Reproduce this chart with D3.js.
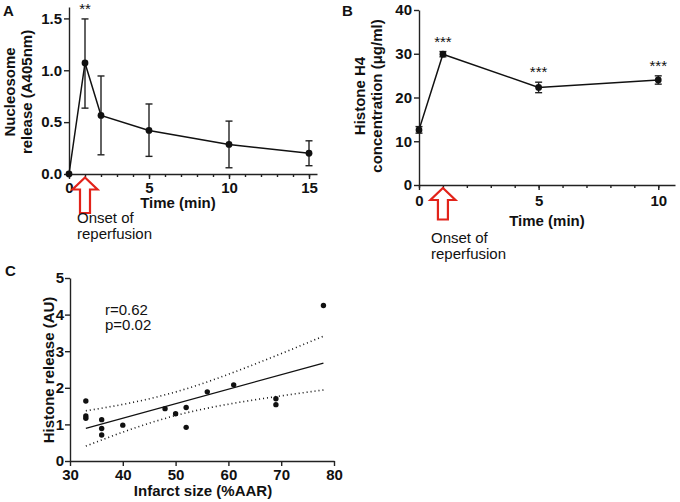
<!DOCTYPE html>
<html>
<head>
<meta charset="utf-8">
<script src="https://cdn.jsdelivr.net/npm/d3@7"></script>
<style>
  body { margin: 0; background: #fff; }
  svg { display: block; font-family: "Liberation Sans", Arial, sans-serif; }
  .axis path, .axis line { stroke: #222; stroke-width: 1.4; }
  .axis text { font-size: 15px; font-weight: bold; fill: #111; }
  .title { font-size: 15px; font-weight: bold; fill: #111; }
  .note { font-size: 15px; fill: #111; }
</style>
</head>
<body>
<svg id="chart" width="680" height="502"></svg>
<script>
// Panel A: nucleosome release
const aTime = [0, 1, 2, 5, 10, 15];
const aMean = [0, 1.07, 0.565, 0.42, 0.285, 0.2];
const aLow = [0, 0.635, 0.185, 0.17, 0.06, 0.08];
const aHigh = [0, 1.495, 0.945, 0.675, 0.51, 0.32];
const aStars = ['', '**', '', '', '', ''];
const aXTicks = [0, 5, 10, 15];
const aYTicks = [0, 0.5, 1.0, 1.5];

// Panel B: histone H4 concentration
const bTime = [0, 1, 5, 10];
const bMean = [12.6, 29.9, 22.3, 24.0];
const bErr = [0.75, 0.6, 1.2, 0.95];
const bStars = ['', '***', '***', '***'];
const bXTicks = [0, 5, 10];
const bYTicks = [0, 10, 20, 30, 40];

// Panel C: infarct size vs histone release
const cInfarct = [33, 33, 33, 36, 36, 36, 40, 48, 50, 52, 52, 56, 61, 69, 69, 78];
const cRelease = [1.64, 1.23, 1.17, 1.13, 0.89, 0.71, 0.98, 1.43, 1.29, 1.46, 0.92, 1.89, 2.08, 1.70, 1.54, 4.25];
const cXTicks = [30, 40, 50, 60, 70, 80];
const cYTicks = [0, 1, 2, 3, 4, 5];
const cStats = ['r=0.62', 'p=0.02'];

const onsetTime = 1;
const onsetLabel = ['Onset of', 'reperfusion'];

const svg = d3.select('#chart');
const red = '#e2231a';

function yTitle(g, x, y, lines, gap) {
  lines.forEach((s, i) => {
    g.append('text').attr('class', 'title')
      .attr('text-anchor', 'middle')
      .attr('transform', `translate(${x + i * gap},${y}) rotate(-90)`)
      .text(s);
  });
}

function upArrow(g, cx, tip, bottom) {
  const hw = 12.5, sw = 5, hh = 12;
  const pts = [[cx, tip], [cx + hw, tip + hh], [cx + sw, tip + hh], [cx + sw, bottom],
    [cx - sw, bottom], [cx - sw, tip + hh], [cx - hw, tip + hh]];
  g.append('path')
    .attr('d', 'M' + pts.map(p => p.join(',')).join('L') + 'Z')
    .attr('fill', '#fff').attr('stroke', red).attr('stroke-width', 2.2);
}

// draws a time course panel (A or B)
function timePanel(o) {
  const g = svg.append('g');
  const x = d3.scaleLinear().domain(o.xDomain).range(o.xRange);
  const y = d3.scaleLinear().domain(o.yDomain).range(o.yRange);

  // minor ticks every minute
  g.append('g').attr('class', 'axis')
    .attr('transform', `translate(0,${o.yRange[0]})`)
    .call(d3.axisBottom(x).tickValues(d3.range(0, o.xDomain[1], 1)).tickSize(3).tickFormat('').tickSizeOuter(0));
  const xa = g.append('g').attr('class', 'axis')
    .attr('transform', `translate(0,${o.yRange[0]})`)
    .call(d3.axisBottom(x).tickValues(o.xTicks).tickSize(5).tickPadding(o.xPad).tickSizeOuter(0));
  xa.select('.domain').remove();

  g.append('g').attr('class', 'axis')
    .attr('transform', `translate(${o.xRange[0]},0)`)
    .call(d3.axisLeft(y).tickValues(o.yTicks).tickSize(5).tickPadding(2).tickSizeOuter(0).tickFormat(o.yFormat));

  const pts = o.time.map((t, i) => ({ t, m: o.mean[i], lo: o.low[i], hi: o.high[i], s: o.stars[i] }));

  // error bars
  const eb = g.selectAll('.eb').data(pts.filter(d => d.hi > d.lo)).enter().append('g');
  eb.append('line').attr('x1', d => x(d.t)).attr('x2', d => x(d.t))
    .attr('y1', d => y(d.lo)).attr('y2', d => y(d.hi))
    .attr('stroke', '#222').attr('stroke-width', 1.4);
  eb.selectAll('.cap').data(d => [[d.t, d.lo], [d.t, d.hi]]).enter().append('line')
    .attr('x1', d => x(d[0]) - 3.5).attr('x2', d => x(d[0]) + 3.5)
    .attr('y1', d => y(d[1])).attr('y2', d => y(d[1]))
    .attr('stroke', '#222').attr('stroke-width', 1.4);

  g.append('path').datum(pts)
    .attr('d', d3.line().x(d => x(d.t)).y(d => y(d.m)))
    .attr('fill', 'none').attr('stroke', '#111').attr('stroke-width', 1.5);
  g.selectAll('.pt').data(pts).enter().append('circle')
    .attr('cx', d => x(d.t)).attr('cy', d => y(d.m)).attr('r', 3.4).attr('fill', '#111');

  g.selectAll('.star').data(pts.filter(d => d.s)).enter().append('text')
    .attr('class', 'note').attr('text-anchor', 'middle')
    .attr('x', d => x(d.t)).attr('y', d => y(d.hi) - 5)
    .text(d => d.s);

  g.append('text').attr('class', 'title').attr('text-anchor', 'middle')
    .attr('x', o.xTitle[0]).attr('y', o.xTitle[1]).text('Time (min)');
  yTitle(g, o.yTitle[0], o.yTitle[1], o.yLines, 17);

  const ax = x(onsetTime);
  upArrow(g, ax, o.arrow[0], o.arrow[1]);
  onsetLabel.forEach((s, i) => {
    g.append('text').attr('class', 'note')
      .attr('x', o.onset[0]).attr('y', o.onset[1] + i * 15.5).text(s);
  });

  g.append('text').attr('class', 'title').attr('font-size', 16)
    .attr('x', o.label[0]).attr('y', o.label[1]).text(o.label[2]);
}

timePanel({
  time: aTime, mean: aMean, low: aLow, high: aHigh, stars: aStars,
  xDomain: [0, 15.5], xRange: [69, 317], yDomain: [0, 1.61], yRange: [174, 7],
  xTicks: aXTicks, yTicks: aYTicks, yFormat: d3.format('.1f'), xPad: 3,
  xTitle: [178, 207.5], yTitle: [15, 92], yLines: ['Nucleosome', 'release (A405nm)'],
  arrow: [177.5, 213], onset: [77, 223], label: [3, 16, 'A']
});

timePanel({
  time: bTime, mean: bMean, low: bMean.map((m, i) => m - bErr[i]), high: bMean.map((m, i) => m + bErr[i]), stars: bStars,
  xDomain: [0, 10.7], xRange: [419, 675], yDomain: [0, 40], yRange: [185, 10],
  xTicks: bXTicks, yTicks: bYTicks, yFormat: d3.format('d'), xPad: 5,
  xTitle: [547, 226], yTitle: [365, 96], yLines: ['Histone H4', 'concentration (μg/ml)'],
  arrow: [188, 219.5], onset: [431, 243], label: [342, 16, 'B']
});

// Panel C: scatter with linear fit and 95% confidence band
(function () {
  const g = svg.append('g');
  const x = d3.scaleLinear().domain([30, 80]).range([70, 334]);
  const y = d3.scaleLinear().domain([0, 5]).range([461, 278]);

  g.append('g').attr('class', 'axis').attr('transform', 'translate(0,461)')
    .call(d3.axisBottom(x).tickValues(cXTicks).tickSize(5).tickPadding(3).tickSizeOuter(0));
  g.append('g').attr('class', 'axis').attr('transform', 'translate(70,0)')
    .call(d3.axisLeft(y).tickValues(cYTicks).tickSize(5).tickPadding(1).tickSizeOuter(0).tickFormat(d3.format('d')));

  const n = cInfarct.length;
  const mx = d3.mean(cInfarct), my = d3.mean(cRelease);
  const sxx = d3.sum(cInfarct, v => (v - mx) ** 2);
  const sxy = d3.sum(cInfarct, (v, i) => (v - mx) * (cRelease[i] - my));
  const slope = sxy / sxx, icpt = my - slope * mx;
  const sse = d3.sum(cInfarct, (v, i) => (cRelease[i] - icpt - slope * v) ** 2);
  const s = Math.sqrt(sse / (n - 2));
  const tCrit = 2.145; // t(0.975, df = 14)
  const x0 = d3.min(cInfarct), x1 = d3.max(cInfarct);
  const xs = d3.range(0, 41).map(k => x0 + (x1 - x0) * k / 40);
  const fit = v => icpt + slope * v;
  const half = v => tCrit * s * Math.sqrt(1 / n + (v - mx) ** 2 / sxx);

  const line = d3.line().x(d => x(d[0])).y(d => y(d[1]));
  g.append('path').attr('d', line([[x0, fit(x0)], [x1, fit(x1)]]))
    .attr('fill', 'none').attr('stroke', '#111').attr('stroke-width', 1.3);
  [1, -1].forEach(sg => {
    g.append('path').attr('d', line.curve(d3.curveMonotoneX)(xs.map(v => [v, fit(v) + sg * half(v)])))
      .attr('fill', 'none').attr('stroke', '#111').attr('stroke-width', 1.6)
      .attr('stroke-dasharray', '1,3');
  });

  g.selectAll('.dot').data(cInfarct).enter().append('circle')
    .attr('cx', d => x(d)).attr('cy', (d, i) => y(cRelease[i])).attr('r', 2.7).attr('fill', '#111');

  cStats.forEach((t, i) => {
    g.append('text').attr('class', 'note').attr('x', 105).attr('y', 315 + i * 15).text(t);
  });

  g.append('text').attr('class', 'title').attr('text-anchor', 'middle')
    .attr('x', 203).attr('y', 496).text('Infarct size (%AAR)');
  yTitle(g, 54, 370, ['Histone release (AU)'], 0);
  g.append('text').attr('class', 'title').attr('font-size', 16)
    .attr('x', 5).attr('y', 276).text('C');
})();
</script>
</body>
</html>
